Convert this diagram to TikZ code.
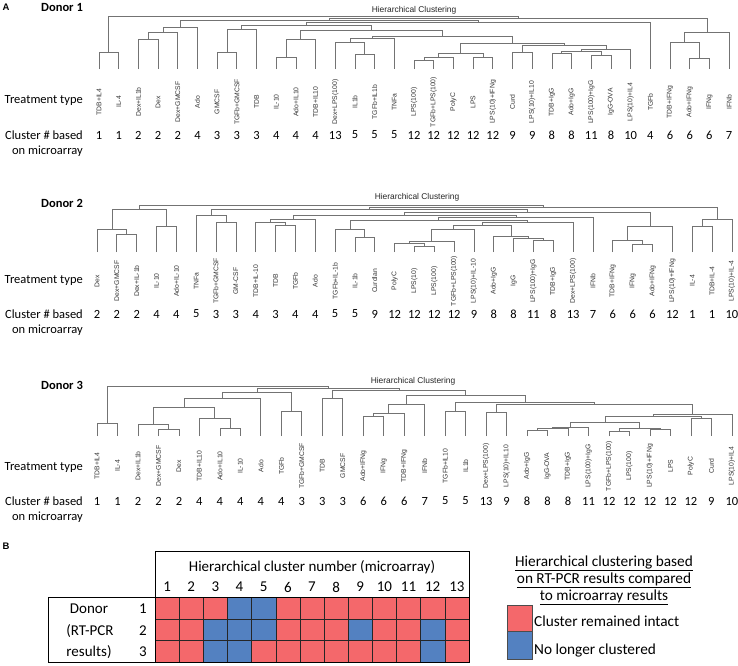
\documentclass[tikz,border=0pt]{standalone}
\usepackage{fontspec}
\setmainfont{Carlito}
\newfontfamily\arialf{Liberation Sans}
\usetikzlibrary{calc}
\definecolor{cR}{RGB}{244,104,107}
\definecolor{cB}{RGB}{83,129,193}
\definecolor{dline}{RGB}{115,115,115}
\newcommand\mrg[4]{%
  \path let \p1=(#2),\p2=(#3),\p3=(0,#4) in ({(\x1+\x2)/2},\y3) coordinate (#1);
  \draw[dend] (#2) -- (#2 |- #1) -- (#3 |- #1) -- (#3);}
\begin{document}
\begin{tikzpicture}[x=1pt,y=-1pt,
  dend/.style={draw=dline,line width=0.75pt},
  leaflab/.style={rotate=90,anchor=center,font=\arialf\fontsize{6.8}{7}\selectfont,text=black!80,inner sep=0pt},
  numlab/.style={font=\fontsize{12.5}{14}\selectfont,inner sep=0pt},
  side/.style={font=\fontsize{12.5}{14}\selectfont,inner sep=0pt,anchor=east},
  donor/.style={font=\bfseries\fontsize{12.5}{14}\selectfont,inner sep=0pt,anchor=west},
  panel/.style={font=\arialf\bfseries\fontsize{9.5}{11}\selectfont,inner sep=0pt},
  htitle/.style={font=\arialf\fontsize{8.4}{9}\selectfont,inner sep=0pt,text=black!85},
  cell/.style={draw=black!85,line width=0.5pt,minimum width=24.15pt,minimum height=21.67pt,inner sep=0pt,outer sep=0pt},
  bt/.style={font=\fontsize{15}{17}\selectfont,inner sep=0pt},
  leg/.style={font=\fontsize{15.3}{17}\selectfont,inner sep=0pt},
  sw/.style={draw=black!70,line width=0.5pt,minimum width=25pt,inner sep=0pt,outer sep=0pt}]
\useasboundingbox (0,0) rectangle (738,665);
\fill[white] (0,0) rectangle (738,665);

% ---------------- Donor 1 ----------------
\node[panel] (pA) at (6,7) {A};
\node[donor] (d1) at (41,7.5) {Donor 1};
\node[htitle] (h1) at (414,10) {Hierarchical Clustering};
\node[side] (tt1) at (83,100) {Treatment type};
\node[side] (cb1) at (83,135) {Cluster \# based};
\node[side] (om1) at (83,151) {on microarray};
\foreach \lab/\num [count=\i] in {TDB+IL4/1,IL-4/1,Dex+IL1b/2,Dex/2,Dex+GMCSF/2,Ado/4,GMCSF/3,TGFb+GMCSF/3,TDB/3,IL-10/4,Ado+IL10/4,TDB+IL10/4,Dex+LPS(100)/13,IL1b/5,TGFb+IL1b/5,TNFa/5,LPS(100)/12,TGFb+LPS(100)/12,PolyC/12,LPS/12,LPS(10)+IFNg/12,Curd/9,LPS(10)+IL10/9,TDB+IgG/8,Ado+IgG/8,LPS(100)+IgG/11,IgG-OVA/8,LPS(10)+IL4/10,TGFb/4,TDB+IFNg/6,Ado+IFNg/6,IFNg/6,IFNb/7}{
  \pgfmathsetmacro\xx{99+(\i-1)*19.69}
  \coordinate (a\i) at (\xx,69);
  \node[leaflab] (a\i-l) at (\xx,102) {\lab};
  \node[numlab] (a\i-n) at (\xx,135) {\num};
}
\mrg{aA}{a1}{a2}{52}
\mrg{ac1}{a3}{a4}{39}
\mrg{ac2}{ac1}{a5}{32}
\mrg{aC}{ac2}{a6}{27}
\mrg{ad1}{a7}{a8}{52}
\mrg{aD}{ad1}{a9}{29}
\mrg{ae1}{a10}{a11}{57}
\mrg{aE}{ae1}{a12}{39}
\mrg{af1}{a14}{a15}{54}
\mrg{aF}{a13}{af1}{42}
\mrg{aG}{aF}{a16}{38}
\mrg{al1}{a17}{a18}{60}
\mrg{al2}{al1}{a19}{57}
\mrg{al3}{a20}{a21}{57}
\mrg{aL}{al2}{al3}{53}
\mrg{ao1}{a22}{a23}{52}
\mrg{am1}{a24}{a25}{53}
\mrg{am2}{a26}{a27}{55}
\mrg{aM}{am1}{am2}{51}
\mrg{aN}{aM}{a28}{49}
\mrg{ao2}{ao1}{aN}{45}
\mrg{aO}{aL}{ao2}{43}
\mrg{aP}{aG}{aO}{36}
\mrg{aQ}{aE}{aP}{30}
\mrg{aR1}{aD}{aQ}{25}
\mrg{aS}{aR1}{a29}{22.5}
\mrg{aU}{aC}{aS}{20}
\mrg{ai1}{a31}{a32}{58}
\mrg{ai2}{a30}{ai1}{42}
\mrg{aI}{ai2}{a33}{32}
\mrg{aR}{aU}{aI}{18.5}
\mrg{aroot}{aA}{aR}{16.5}

% ---------------- Donor 2 ----------------
\node[donor] (d2) at (41,203) {Donor 2};
\node[htitle] (h2) at (417,197) {Hierarchical Clustering};
\node[side] (tt2) at (83,280) {Treatment type};
\node[side] (cb2) at (83,314) {Cluster \# based};
\node[side] (om2) at (83,330) {on microarray};
\foreach \lab/\num [count=\i] in {Dex/2,Dex+GMCSF/2,Dex+IL-1b/2,IL-10/4,Ado+IL-10/4,TNFa/5,TGFb+GMCSF/3,GM-CSF/3,TDB+IL-10/4,TDB/3,TGFb/4,Ado/4,TGFb+IL-1b/5,IL-1b/5,Curdlan/9,PolyC/12,LPS(10)/12,LPS(100)/12,TGFb+LPS(100)/12,LPS(10)+IL-10/9,Ado+IgG/8,IgG/8,LPS(100)+IgG/11,TDB+IgG/8,Dex+LPS(100)/13,IFNb/7,TDB+IFNg/6,IFNg/6,Ado+IFNg/6,LPS(10)+IFNg/12,IL-4/1,TDB+IL-4/1,LPS(10)+IL-4/10}{
  \pgfmathsetmacro\xx{97+(\i-1)*19.84}
  \coordinate (b\i) at (\xx,252);
  \node[leaflab] (b\i-l) at (\xx,281) {\lab};
  \node[numlab] (b\i-n) at (\xx,314) {\num};
}
\mrg{bA1}{b2}{b3}{234}
\mrg{bA2}{b1}{bA1}{229}
\mrg{bA3}{b4}{b5}{226}
\mrg{bL}{bA2}{bA3}{209}
\mrg{bt1}{b7}{b8}{222}
\mrg{bT}{b6}{bt1}{215}
\mrg{bs1}{b10}{b11}{225}
\mrg{bs2}{b9}{bs1}{222}
\mrg{bS}{bs2}{b12}{219}
\mrg{bu1}{b14}{b15}{237}
\mrg{bU1}{b13}{bu1}{229}
\mrg{bv1}{b17}{b18}{246}
\mrg{bv2}{b16}{bv1}{243}
\mrg{bv3}{bv2}{b19}{241}
\mrg{bv4}{bv3}{b20}{229}
\mrg{bw1}{b23}{b24}{240}
\mrg{bw2}{b22}{bw1}{238}
\mrg{bw3}{b21}{bw2}{236}
\mrg{bV}{bv4}{bw3}{225}
\mrg{bU2}{bV}{b25}{222}
\mrg{bT2}{bU1}{bU2}{220}
\mrg{bQ}{bT2}{b26}{217}
\mrg{bP}{bS}{bQ}{215}
\mrg{bi1}{b28}{b29}{244}
\mrg{bi2}{b27}{bi1}{240}
\mrg{bI}{bi2}{b30}{226}
\mrg{bN}{bP}{bI}{212}
\mrg{bM}{bT}{bN}{209}
\mrg{bk1}{b31}{b32}{226}
\mrg{bK}{bk1}{b33}{219}
\mrg{bR}{bM}{bK}{207}
\mrg{broot}{bL}{bR}{205}

% ---------------- Donor 3 ----------------
\node[donor] (d3) at (41,385) {Donor 3};
\node[htitle] (h3) at (413,381) {Hierarchical Clustering};
\node[side] (tt3) at (83,467) {Treatment type};
\node[side] (cb3) at (83,501) {Cluster \# based};
\node[side] (om3) at (83,517) {on microarray};
\foreach \lab/\num [count=\i] in {TDB+IL4/1,IL-4/1,Dex+IL1b/2,Dex+GMCSF/2,Dex/2,TDB+IL10/4,Ado+IL10/4,IL-10/4,Ado/4,TGFb/4,TGFb+GMCSF/3,TDB/3,GMCSF/3,Ado+IFNg/6,IFNg/6,TDB+IFNg/6,IFNb/7,TGFb+IL10/5,IL1b/5,Dex+LPS(100)/13,LPS(10)+IL10/9,Ado+IgG/8,IgG-OVA/8,TDB+IgG/8,LPS(100)+IgG/11,TGFb+LPS(100)/12,LPS(100)/12,LPS(10)+IFNg/12,LPS/12,PolyC/12,Curd/9,LPS(10)+IL4/10}{
  \pgfmathsetmacro\xx{97+(\i-1)*20.48}
  \coordinate (c\i) at (\xx,436);
  \node[leaflab] (c\i-l) at (\xx,466) {\lab};
  \node[numlab] (c\i-n) at (\xx,501) {\num};
}
\mrg{cA}{c1}{c2}{423}
\mrg{cb1}{c4}{c5}{429}
\mrg{cb}{c3}{cb1}{424}
\mrg{cc1}{c7}{c8}{428}
\mrg{cc}{c6}{cc1}{418}
\mrg{cd}{cb}{cc}{407}
\mrg{ce}{cd}{c9}{398}
\mrg{cf}{c10}{c11}{411}
\mrg{cW}{ce}{cf}{392.5}
\mrg{cg}{c12}{c13}{398}
\mrg{ci1}{c14}{c15}{416}
\mrg{ci2}{ci1}{c16}{413}
\mrg{ci3}{ci2}{c17}{404}
\mrg{cj}{c18}{c19}{411}
\mrg{ck}{c20}{c21}{412}
\mrg{cl1}{c22}{c23}{430}
\mrg{cl2}{cl1}{c24}{428}
\mrg{cl3}{cl2}{c25}{427}
\mrg{cm1}{c26}{c27}{431}
\mrg{cm2}{c28}{c29}{429}
\mrg{cm3}{cm1}{cm2}{428}
\mrg{cn}{cl3}{cm3}{422}
\mrg{cp}{c30}{c31}{418}
\mrg{cq}{cn}{cp}{416}
\mrg{cr}{cq}{c32}{414}
\mrg{cs}{ck}{cr}{404}
\mrg{ct}{cj}{cs}{402}
\mrg{cu}{ci3}{ct}{395}
\mrg{cv}{cg}{cu}{390.5}
\mrg{cY}{cW}{cv}{388.5}
\mrg{croot}{cA}{cY}{386.5}

% ---------------- Panel B ----------------
\node[panel] (pB) at (6,546) {B};
\foreach \r/\row in {1/{R,R,R,B,B,R,R,R,R,R,R,R,R},2/{R,R,B,B,B,R,R,R,B,R,R,B,R},3/{R,R,B,B,R,R,R,R,R,R,R,B,R}}{
  \foreach \col [count=\c] in \row {
    \node[cell,fill=c\col] (cell\r-\c) at ({155+(\c-0.5)*24.15},{597.3+(\r-0.5)*21.67}) {};
  }
}
\foreach \c in {1,...,13}{
  \node[bt] (hn\c) at ({155+(\c-0.5)*24.15},587) {\c};
}
\draw[line width=1pt] (155,551) rectangle (469,597.3);
\draw[line width=1pt] (48,597.3) rectangle (469,662.3);
\draw[line width=1pt] (155,597.3) -- (155,662.3);
\node[bt] (hdr) at (312,567) {Hierarchical cluster number (microarray)};
\node[bt] (rl1) at (89,609) {Donor};
\node[bt] (rl2) at (90,631) {(RT-PCR};
\node[bt] (rl3) at (89,652) {results)};
\node[bt] (rn1) at (143,609) {1};
\node[bt] (rn2) at (143,631) {2};
\node[bt] (rn3) at (143,652) {3};

\node[leg] (lg1) at (604,563) {\underline{Hierarchical clustering based}};
\node[leg] (lg2) at (604,580) {\underline{on RT-PCR results compared}};
\node[leg] (lg3) at (604,597) {\underline{to microarray results}};
\node[sw,fill=cR,minimum height=26pt] (swr) at (519.5,618) {};
\node[sw,fill=cB,minimum height=28pt] (swb) at (519.5,645) {};
\node[leg,anchor=west] (lgr) at (534,621) {Cluster remained intact};
\node[leg,anchor=west] (lgb) at (534,650) {No longer clustered};
\end{tikzpicture}
\end{document}
